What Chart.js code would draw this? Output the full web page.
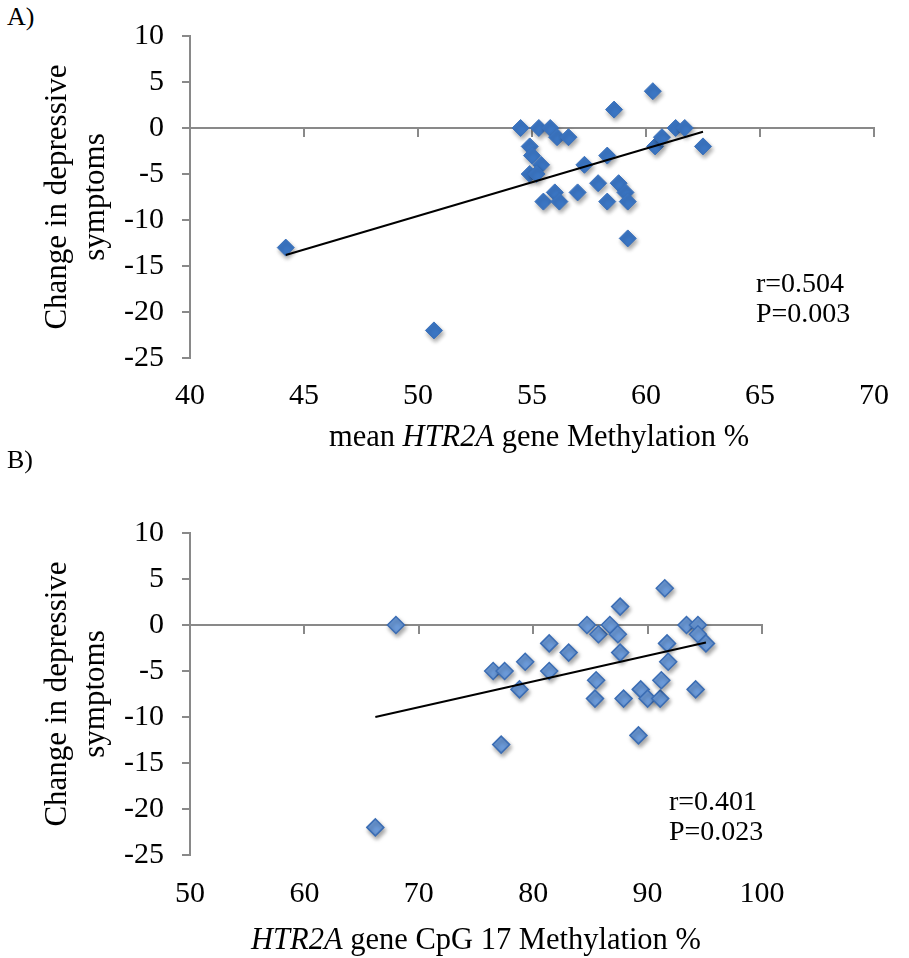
<!DOCTYPE html>
<html>
<head>
<meta charset="utf-8">
<script src="https://cdn.jsdelivr.net/npm/chart.js@4.4.0/dist/chart.umd.min.js"></script>
<style>
  html, body { margin: 0; padding: 0; background: #fff; }
  body { width: 909px; height: 958px; position: relative; overflow: hidden; font-family: "Liberation Serif", "Times New Roman", serif; color: #000; }
  .panel { position: absolute; left: 0; }
  .txt { position: absolute; white-space: nowrap; }
  .tag { font-size: 26px; line-height: 30px; }
  .stat { font-size: 28px; line-height: 30px; }
  .xtitle { font-size: 30.5px; line-height: 34px; text-align: center; width: 800px; }
</style>
</head>
<body>

<div class="txt tag" style="left:7px;top:2px;">A)</div>
<div class="panel" style="top:0;"><canvas id="chartA" width="909" height="460"></canvas></div>
<div class="txt stat" style="left:756px;top:268px;">r=0.504<br>P=0.003</div>
<div class="txt xtitle" style="left:139px;top:419px;">mean <i>HTR2A</i> gene Methylation %</div>

<div class="txt tag" style="left:7px;top:445px;">B)</div>
<div class="panel" style="top:460px;"><canvas id="chartB" width="909" height="498"></canvas></div>
<div class="txt stat" style="left:669px;top:786px;">r=0.401<br>P=0.023</div>
<div class="txt xtitle" style="left:76px;top:922px;"><i>HTR2A</i> gene CpG 17 Methylation %</div>

<script>
// panel A: mean HTR2A methylation vs change in symptoms
const meanMethylA = [
    44.2, 50.7, 54.5, 55.3, 55.8, 56.1, 56.6, 54.9, 55.0, 55.4, 54.9,
    55.2, 56.0, 55.5, 56.2, 57.0, 57.3, 58.3, 58.6, 57.9, 58.8, 59.1,
    58.3, 59.2, 59.2, 60.3, 60.4, 60.7, 61.3, 61.7, 62.5
];
const changeA = [
    -13, -22, 0, 0, 0, -1, -1, -2, -3, -4, -5,
    -5, -7, -8, -8, -7, -4, -3, 2, -6, -6, -7,
    -8, -8, -12, 4, -2, -1, 0, 0, -2
];
const trendXA = [44.2, 62.5];
const trendYA = [-13.8, -0.4];

// panel B: CpG 17 methylation vs change in symptoms
const cpg17B = [
    68.0, 66.2, 77.2, 76.5, 77.5, 78.8, 79.3, 81.4, 81.4, 83.1, 84.7,
    85.7, 86.7, 87.4, 87.6, 87.6, 85.5, 85.4, 87.9, 89.4, 90.0, 91.1,
    91.2, 89.2, 91.5, 91.7, 91.8, 93.4, 94.4, 94.4, 95.1, 94.2
];
const changeB = [
    0, -22, -13, -5, -5, -7, -4, -2, -5, -3, 0,
    -1, 0, -1, 2, -3, -6, -8, -8, -7, -8, -8,
    -6, -12, 4, -2, -4, 0, 0, -1, -2, -7
];
const trendXB = [66.2, 95.1];
const trendYB = [-10.0, -1.9];

const yTitle = ["Change in depressive", "symptoms"];
const serif = "'Liberation Serif', 'Times New Roman', serif";
const axisGrey = "#898989";

// soft drop shadow under the diamonds, like the office chart
const shadow = {
    id: "shadow",
    beforeDatasetDraw(chart, args) {
        if (args.index !== 0) return;
        const ctx = chart.ctx;
        ctx.save();
        ctx.shadowColor = "rgba(0,0,0,0.35)";
        ctx.shadowBlur = 4;
        ctx.shadowOffsetX = 1.5;
        ctx.shadowOffsetY = 3;
    },
    afterDatasetDraw(chart, args) {
        if (args.index !== 0) return;
        chart.ctx.restore();
    }
};

function pairs(xs, ys) {
    return xs.map((x, i) => ({ x: x, y: ys[i] }));
}

function makeChart(id, cfg) {
    return new Chart(document.getElementById(id), {
        type: "scatter",
        data: {
            datasets: [
                {
                    data: pairs(cfg.xs, cfg.ys),
                    pointStyle: "rectRot",
                    pointRadius: 8.5,
                    pointHoverRadius: 8.5,
                    backgroundColor: cfg.fill,
                    borderColor: cfg.edge,
                    borderWidth: cfg.edgeW,
                    order: 2
                },
                {
                    type: "line",
                    data: pairs(cfg.tx, cfg.ty),
                    borderColor: "#000",
                    borderWidth: 2,
                    pointRadius: 0,
                    fill: false,
                    order: 1
                }
            ]
        },
        options: {
            responsive: false,
            animation: false,
            events: [],
            layout: { padding: cfg.pad },
            plugins: {
                legend: { display: false },
                tooltip: { enabled: false }
            },
            scales: {
                x: {
                    type: "linear",
                    position: "bottom",
                    min: cfg.xMin,
                    max: cfg.xMax,
                    ticks: {
                        stepSize: cfg.xStep,
                        padding: cfg.xPad,
                        color: "#000",
                        font: { family: serif, size: 30 }
                    },
                    grid: { display: false, drawTicks: false },
                    border: { display: false },
                    afterFit: s => { s.height = cfg.xH; }
                },
                x0: {
                    type: "linear",
                    axis: "x",
                    position: { y: 0 },
                    min: cfg.xMin,
                    max: cfg.xMax,
                    ticks: { display: false, stepSize: cfg.xStep },
                    grid: {
                        drawOnChartArea: false,
                        drawTicks: true,
                        tickLength: 8,
                        color: axisGrey,
                        lineWidth: 2
                    },
                    border: { color: axisGrey, width: 2 }
                },
                y: {
                    min: -25,
                    max: 10,
                    ticks: {
                        stepSize: 5,
                        padding: 18,
                        color: "#000",
                        font: { family: serif, size: 30 }
                    },
                    grid: {
                        drawOnChartArea: false,
                        tickLength: 8,
                        color: axisGrey,
                        lineWidth: 2
                    },
                    border: { color: axisGrey, width: 2 },
                    title: {
                        display: true,
                        text: yTitle,
                        color: "#000",
                        font: { family: serif, size: 31, lineHeight: 1.25 },
                        padding: { top: 8, bottom: 0 }
                    },
                    afterFit: s => { s.width = 160; }
                }
            }
        },
        plugins: [shadow]
    });
}

makeChart("chartA", {
    xs: meanMethylA, ys: changeA, tx: trendXA, ty: trendYA,
    xMin: 40, xMax: 70, xStep: 5, xPad: 20, xH: 102,
    pad: { left: 30, right: 22, top: 30, bottom: 0 },
    fill: "#3b76c4", edge: "#3a70ba", edgeW: 1
});

makeChart("chartB", {
    xs: cpg17B, ys: changeB, tx: trendXB, ty: trendYB,
    xMin: 50, xMax: 100, xStep: 10, xPad: 21, xH: 103,
    pad: { left: 30, right: 147, top: 73, bottom: 0 },
    fill: "#6c9bda", edge: "#3b6db4", edgeW: 1.5
});
</script>
</body>
</html>
